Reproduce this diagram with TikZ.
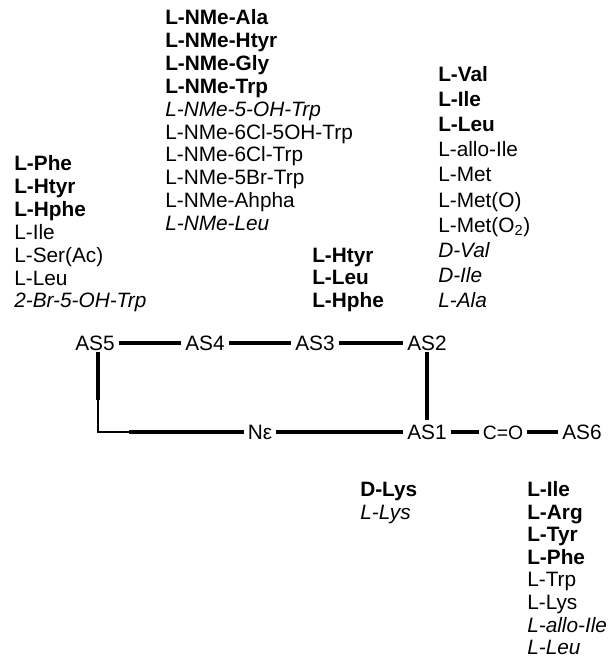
\documentclass[tikz,border=0pt]{standalone}
\usepackage{fontspec}
\setmainfont{Liberation Sans}
\usetikzlibrary{positioning}
\tikzset{
  aa/.style={anchor=base west, inner sep=0pt, font=\fontsize{15.6}{18}\selectfont},
  res/.style={inner xsep=3pt, inner ysep=1pt, text height=11.5pt, text depth=0pt,
              font=\fontsize{15.6}{18}\selectfont},
  bond/.style={line width=3pt},
  thinbond/.style={line width=1.6pt},
}

\begin{document}
\begin{tikzpicture}[x=0.75pt,y=-0.75pt]
\useasboundingbox (0,0) rectangle (614,658);
% building blocks found at each position
\foreach \t [count=\i from 0] in {\textbf{L-Phe},\textbf{L-Htyr},\textbf{L-Hphe},L-Ile,
  L-Ser(Ac),L-Leu,\textit{2-Br-5-OH-Trp}}
  \node[aa] (as5v\i) at (14,170.5+22.9*\i) {\t};
\foreach \t [count=\i from 0] in {\textbf{L-NMe-Ala},\textbf{L-NMe-Htyr},\textbf{L-NMe-Gly},
  \textbf{L-NMe-Trp},\textit{L-NMe-5-OH-Trp},L-NMe-6Cl-5OH-Trp,L-NMe-6Cl-Trp,
  L-NMe-5Br-Trp,L-NMe-Ahpha,\textit{L-NMe-Leu}}
  \node[aa] (as4v\i) at (165,24.5+22.9*\i) {\t};
\foreach \t [count=\i from 0] in {\textbf{L-Htyr},\textbf{L-Leu},\textbf{L-Hphe}}
  \node[aa] (as3v\i) at (312,262+22.9*\i) {\t};
\foreach \t [count=\i from 0] in {\textbf{L-Val},\textbf{L-Ile},\textbf{L-Leu},L-allo-Ile,
  L-Met,L-Met(O),L-Met(O\textsubscript{2}),\textit{D-Val},\textit{D-Ile},\textit{L-Ala}}
  \node[aa] (as2v\i) at (438,81+25.2*\i) {\t};
\foreach \t [count=\i from 0] in {\textbf{D-Lys},\textit{L-Lys}}
  \node[aa] (as1v\i) at (360,496.5+22.6*\i) {\t};
\foreach \t [count=\i from 0] in {\textbf{L-Ile},\textbf{L-Arg},\textbf{L-Tyr},\textbf{L-Phe},
  L-Trp,L-Lys,\textit{L-allo-Ile},\textit{L-Leu}}
  \node[aa] (as6v\i) at (527,496.5+22.6*\i) {\t};

% ring
\node[res] (as5) at (95,343) {AS5};
\node[res] (as4) at (205,343) {AS4};
\node[res] (as3) at (315,343) {AS3};
\node[res] (as2) at (427,343) {AS2};
\node[res] (ne) at (260,432) {Nε};
\node[res] (as1) at (427,432) {AS1};
\node[res, font=\fontsize{14.5}{17}\selectfont] (co) at (503,432) {C=O};
\node[res] (as6) at (582,432) {AS6};
\coordinate (crn) at (98,432);
\coordinate (kink) at (98,400);
\coordinate (kink2) at (129,432);

\draw[bond] (as5) -- (as4);
\draw[bond] (as4) -- (as3);
\draw[bond] (as3) -- (as2);
\draw[bond, shorten >=2pt] (as2) -- (as1);
\draw[bond] (crn |- as5.south) -- (kink);
\draw[thinbond] (kink) -- (crn) -- (kink2);
\draw[bond] (kink2) -- (ne);
\draw[bond] (ne) -- (as1);
\draw[bond] (as1) -- (co);
\draw[bond] (co) -- (as6);
\end{tikzpicture}
\end{document}
